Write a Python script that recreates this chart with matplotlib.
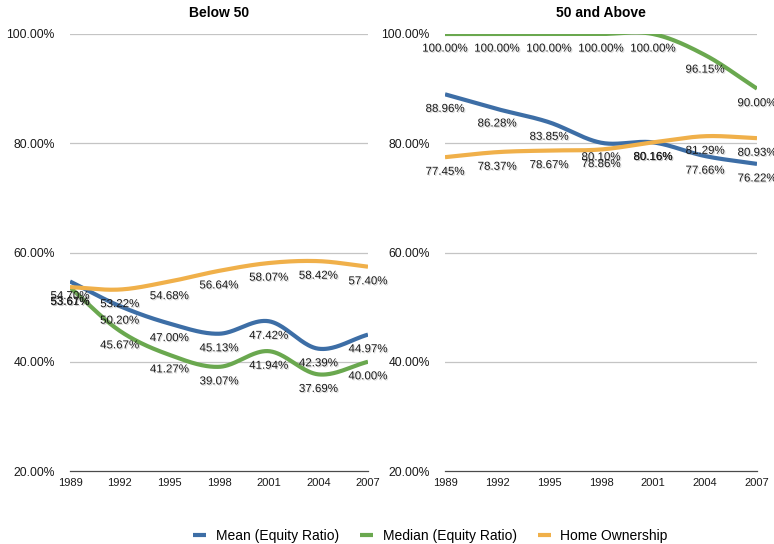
import numpy as np
import matplotlib
matplotlib.use("Agg")
import matplotlib.pyplot as plt
import matplotlib.patheffects as pe

plt.rcParams['font.family'] = ['Liberation Sans', 'DejaVu Sans']

years = [1989, 1992, 1995, 1998, 2001, 2004, 2007]
series_names = ["Mean (Equity Ratio)", "Median (Equity Ratio)", "Home Ownership"]
panel_titles = ["Below 50", "50 and Above"]

# Below 50
below_mean = [54.70, 50.20, 47.00, 45.13, 47.42, 42.39, 44.97]
below_median = [53.61, 45.67, 41.27, 39.07, 41.94, 37.69, 40.00]
below_home = [53.67, 53.22, 54.68, 56.64, 58.07, 58.42, 57.40]

# 50 and Above
above_mean = [88.96, 86.28, 83.85, 80.10, 80.16, 77.66, 76.22]
above_median = [100.00, 100.00, 100.00, 100.00, 100.00, 96.15, 90.00]
above_home = [77.45, 78.37, 78.67, 78.86, 80.16, 81.29, 80.93]

y_ticks = [20, 40, 60, 80, 100]
colors = ["#3d6ea6", "#6aa84f", "#f0b04a"]


def smooth(x, y, n=40):
    """Catmull-Rom spline through the points."""
    x = np.asarray(x, float)
    y = np.asarray(y, float)
    m = np.zeros_like(y)
    m[1:-1] = (y[2:] - y[:-2]) / (x[2:] - x[:-2])
    m[0] = (y[1] - y[0]) / (x[1] - x[0])
    m[-1] = (y[-1] - y[-2]) / (x[-1] - x[-2])
    xs, ys = [], []
    for i in range(len(x) - 1):
        h = x[i + 1] - x[i]
        t = np.linspace(0, 1, n, endpoint=(i == len(x) - 2))
        h00 = 2 * t**3 - 3 * t**2 + 1
        h10 = t**3 - 2 * t**2 + t
        h01 = -2 * t**3 + 3 * t**2
        h11 = t**3 - t**2
        xs.append(x[i] + t * h)
        ys.append(h00 * y[i] + h10 * h * m[i] + h01 * y[i + 1] + h11 * h * m[i + 1])
    return np.concatenate(xs), np.concatenate(ys)


fig = plt.figure(figsize=(7.74, 5.44), dpi=100)
ax_l = fig.add_axes([70 / 774, 73 / 544, 298 / 774, 437 / 544])
ax_r = fig.add_axes([445 / 774, 73 / 544, 312 / 774, 437 / 544])

panels = [
    (ax_l, panel_titles[0], [below_mean, below_median, below_home]),
    (ax_r, panel_titles[1], [above_mean, above_median, above_home]),
]

shadow = [pe.SimplePatchShadow(offset=(0.8, -0.8), shadow_rgbFace="#888888", alpha=0.35), pe.Normal()]

for ax, title, data in panels:
    for vals, col, name in zip(data, colors, series_names):
        sx, sy = smooth(years, vals)
        ax.plot(sx, sy, color=col, lw=3.0, solid_capstyle="butt", label=name, zorder=3)
    for vals in data:
        for yr, v in zip(years, vals):
            ax.annotate(f"{v:.2f}%", (yr, v), xytext=(0, -10.5), textcoords="offset points",
                        ha="center", va="center", fontsize=8.3, color="#1a1a1a",
                        path_effects=shadow, zorder=4, annotation_clip=False)
    ax.set_xlim(years[0], years[-1])
    ax.set_ylim(20, 100)
    ax.set_xticks(years)
    ax.set_yticks(y_ticks)
    ax.set_yticklabels([f"{t:.2f}%" for t in y_ticks])
    for t in y_ticks[1:]:
        ax.axhline(t, color="#c4c4c4", lw=0.9, zorder=1)
    for s in ["top", "right", "left"]:
        ax.spines[s].set_visible(False)
    ax.spines["bottom"].set_color("#4a4a4a")
    ax.spines["bottom"].set_linewidth(0.9)
    ax.tick_params(axis="x", length=0, pad=5, labelsize=8, colors="#1a1a1a")
    ax.tick_params(axis="y", length=0, pad=11, labelsize=8.7, colors="#1a1a1a")
    ax.set_title(title, fontsize=10, fontweight="bold", pad=12)
    ax.set_facecolor("none")

handles, labels = ax_l.get_legend_handles_labels()
fig.legend(handles, labels, loc="center", bbox_to_anchor=(0.556, 8 / 544),
           ncol=3, frameon=False, fontsize=10, handlelength=0.95, handletextpad=0.7,
           columnspacing=1.5)

fig.savefig("out.png", dpi=100)
